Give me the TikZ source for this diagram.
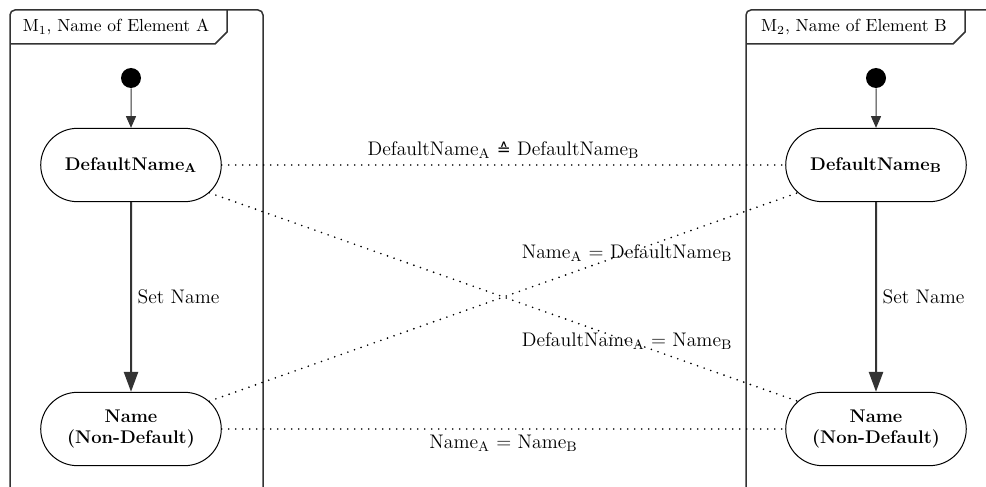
\documentclass[tikz,border=0pt]{standalone}
\usepackage{fontspec}
\newfontfamily\symfont{DejaVu Sans}
\usetikzlibrary{arrows.meta,shapes.misc}

\tikzset{
  frame/.style={line width=0.9pt, draw=black!80, rounded corners=3pt},
  tab/.style={line width=0.9pt, draw=black!80},
  title/.style={font=\fontsize{10.5}{12}\selectfont},
  startdot/.style={circle, fill=black, inner sep=0pt, minimum size=12pt},
  state/.style={rounded rectangle, draw, line width=0.6pt, minimum width=115pt, minimum height=44pt, align=center, font=\fontsize{11}{13}\selectfont\bfseries},
  trans/.style={line width=1.2pt, draw=black!80, -{Triangle[length=12pt,width=8.5pt]}},
  init/.style={line width=0.6pt, draw=black!80, -{Triangle[length=7pt,width=6pt]}},
  corr/.style={line width=1.1pt, line cap=round, dash pattern=on 0pt off 4.2pt},
}

\begin{document}
\begin{tikzpicture}[x=0.6pt, y=-0.6pt, font=\fontsize{11.8}{14}\selectfont]
    \useasboundingbox (0,0) rectangle (986,487);
    \clip (0,0) rectangle (986,487);
    % element A
    \draw[frame] (10,500) -- (10,10) -- (263,10) -- (263,500); % frame A
    \draw[tab] (10,44) -- (215,44) -- (227,32) -- (227,10); % tab A
    \node[title] (titleA) at (116,27) {M\textsubscript{1}, Name of Element A};
    \node[startdot] (startA) at (131,78) {};
    \node[state] (defA) at (131,165) {DefaultName\textsubscript{A}};
    \node[state] (nameA) at (131,429) {Name\\(Non-Default)};
    \draw[init] (startA) -- (defA);
    \draw[trans] (defA) -- node[right] {Set Name} (nameA);
    % element B
    \draw[frame] (746,500) -- (746,10) -- (999,10) -- (999,500); % frame B
    \draw[tab] (746,44) -- (953,44) -- (965,32) -- (965,10); % tab B
    \node[title] (titleB) at (854,27) {M\textsubscript{2}, Name of Element B};
    \node[startdot] (startB) at (876,78) {};
    \node[state] (defB) at (876,165) {DefaultName\textsubscript{B}};
    \node[state] (nameB) at (876,429) {Name\\(Non-Default)};
    \draw[init] (startB) -- (defB);
    \draw[trans] (defB) -- node[right] {Set Name} (nameB);
    % correspondences
    \draw[corr] (defA) -- node[above] {DefaultName\textsubscript{A} {\symfont\fontsize{10}{12}\selectfont ≙} DefaultName\textsubscript{B}} (defB);
    \draw[corr] (nameA) -- node[below] {Name\textsubscript{A} = Name\textsubscript{B}} (nameB);
    \draw[corr] (defA) -- node[pos=0.71] {DefaultName\textsubscript{A} = Name\textsubscript{B}} (nameB);
    \draw[corr] (nameA) -- node[pos=0.71] {Name\textsubscript{A} = DefaultName\textsubscript{B}} (defB);
\end{tikzpicture}
\end{document}
